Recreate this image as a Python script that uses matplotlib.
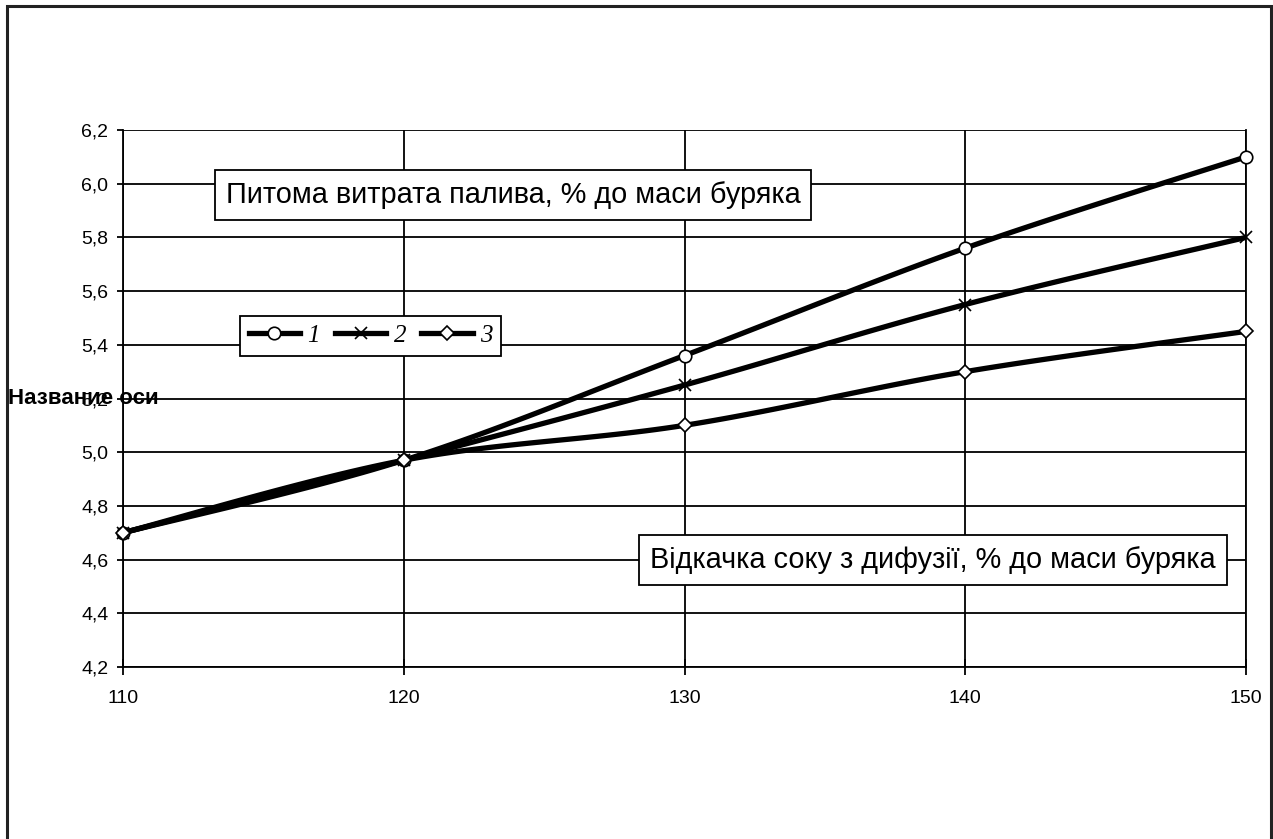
import numpy as np
import matplotlib
matplotlib.use("Agg")
import matplotlib.pyplot as plt
from matplotlib.ticker import FuncFormatter, MultipleLocator
from matplotlib.patches import Rectangle

plt.rcParams['font.family'] = ['Liberation Sans', 'DejaVu Sans']

# juice draw-off, % to beet mass
x = [110, 120, 130, 140, 150]
# specific fuel consumption, % to beet mass
fuel_1 = [4.70, 4.97, 5.36, 5.76, 6.10]
fuel_2 = [4.70, 4.97, 5.25, 5.55, 5.80]
fuel_3 = [4.70, 4.97, 5.10, 5.30, 5.45]
labels = ['1', '2', '3']
markers = ['o', 'x', 'D']


def smooth(xs, ys, n=30):
    # Catmull-Rom style bezier, like spreadsheet "smoothed line"
    xs = np.asarray(xs, float)
    ys = np.asarray(ys, float)
    px = np.concatenate([[xs[0]], xs, [xs[-1]]])
    py = np.concatenate([[ys[0]], ys, [ys[-1]]])
    outx, outy = [], []
    t = np.linspace(0, 1, n)
    for i in range(1, len(px) - 2):
        p0 = np.array([px[i], py[i]])
        p3 = np.array([px[i + 1], py[i + 1]])
        c1 = p0 + (np.array([px[i + 1], py[i + 1]]) - np.array([px[i - 1], py[i - 1]])) / 6
        c2 = p3 - (np.array([px[i + 2], py[i + 2]]) - np.array([px[i], py[i]])) / 6
        b = ((1 - t) ** 3)[:, None] * p0 + (3 * (1 - t) ** 2 * t)[:, None] * c1 \
            + (3 * (1 - t) * t ** 2)[:, None] * c2 + (t ** 3)[:, None] * p3
        outx.extend(b[:, 0])
        outy.extend(b[:, 1])
    return outx, outy


W, H = 1273, 839
fig = plt.figure(figsize=(W / 100, H / 100), dpi=100)
ax = fig.add_axes([123 / W, 1 - 667 / H, (1246 - 123) / W, (667 - 130) / H])

# outer frame of the chart area
fig.patches.append(Rectangle((7 / W, -0.1), (1271 - 7) / W, 1.1 - 6 / H,
                             transform=fig.transFigure, fill=False,
                             edgecolor='#222222', linewidth=2.2))

for ys, lab, m in zip([fuel_1, fuel_2, fuel_3], labels, markers):
    sx, sy = smooth(x, ys)
    ax.plot(sx, sy, color='black', linewidth=3.8, solid_capstyle='butt', zorder=3)
    ms = 7 if m == 'D' else 9
    ax.plot(x, ys, linestyle='none', marker=m, markersize=ms,
            markerfacecolor='white', markeredgecolor='black',
            markeredgewidth=1.2, zorder=4, clip_on=False)

# proxy handles for the legend
handles = []
for lab, m in zip(labels, markers):
    ms = 7 if m == 'D' else 9
    h, = ax.plot([], [], color='black', linewidth=3.8, marker=m, markersize=ms,
                 markerfacecolor='white', markeredgecolor='black',
                 markeredgewidth=1.2)
    handles.append(h)

leg = fig.legend(handles, labels, ncol=3, loc='upper left',
                 bbox_to_anchor=(240 / W, 1 - 316 / H),
                 bbox_transform=fig.transFigure, frameon=True, fancybox=False,
                 borderaxespad=0, handlelength=2.05, handletextpad=0.3,
                 columnspacing=0.6, borderpad=0.35,
                 prop={'family': 'Liberation Serif', 'style': 'italic', 'size': 18})
leg.get_frame().set_edgecolor('black')
leg.get_frame().set_linewidth(1.3)
leg.get_frame().set_alpha(1)

ax.set_xlim(110, 150)
ax.set_ylim(4.2, 6.2)
ax.xaxis.set_major_locator(MultipleLocator(10))
ax.yaxis.set_major_locator(MultipleLocator(0.2))
ax.yaxis.set_major_formatter(FuncFormatter(lambda v, p: f'{v:.1f}'.replace('.', ',')))
ax.grid(True, color='black', linewidth=1.3)
ax.set_axisbelow(True)
ax.spines['top'].set_visible(False)
for s in ['left', 'bottom', 'right']:
    ax.spines[s].set_linewidth(1.3)
ax.tick_params(axis='x', direction='inout', length=11.5, width=1.3, labelsize=14, pad=11)
ax.tick_params(axis='y', direction='out', length=4.5, width=1.3, labelsize=14, pad=6)

fig.text(8 / W, 1 - 398 / H, 'Название оси', fontsize=16, fontweight='bold',
         ha='left', va='center')

box = dict(boxstyle='square,pad=0.38', facecolor='white', edgecolor='black', linewidth=1.3)
fig.text(513 / W, 1 - 195 / H, 'Питома витрата палива, % до маси буряка',
         fontsize=20.8, ha='center', va='center', bbox=box, zorder=5)
fig.text(933 / W, 1 - 560 / H, 'Відкачка соку з дифузії, % до маси буряка',
         fontsize=20.8, ha='center', va='center', bbox=box, zorder=5)

fig.savefig('out.png', dpi=100)
